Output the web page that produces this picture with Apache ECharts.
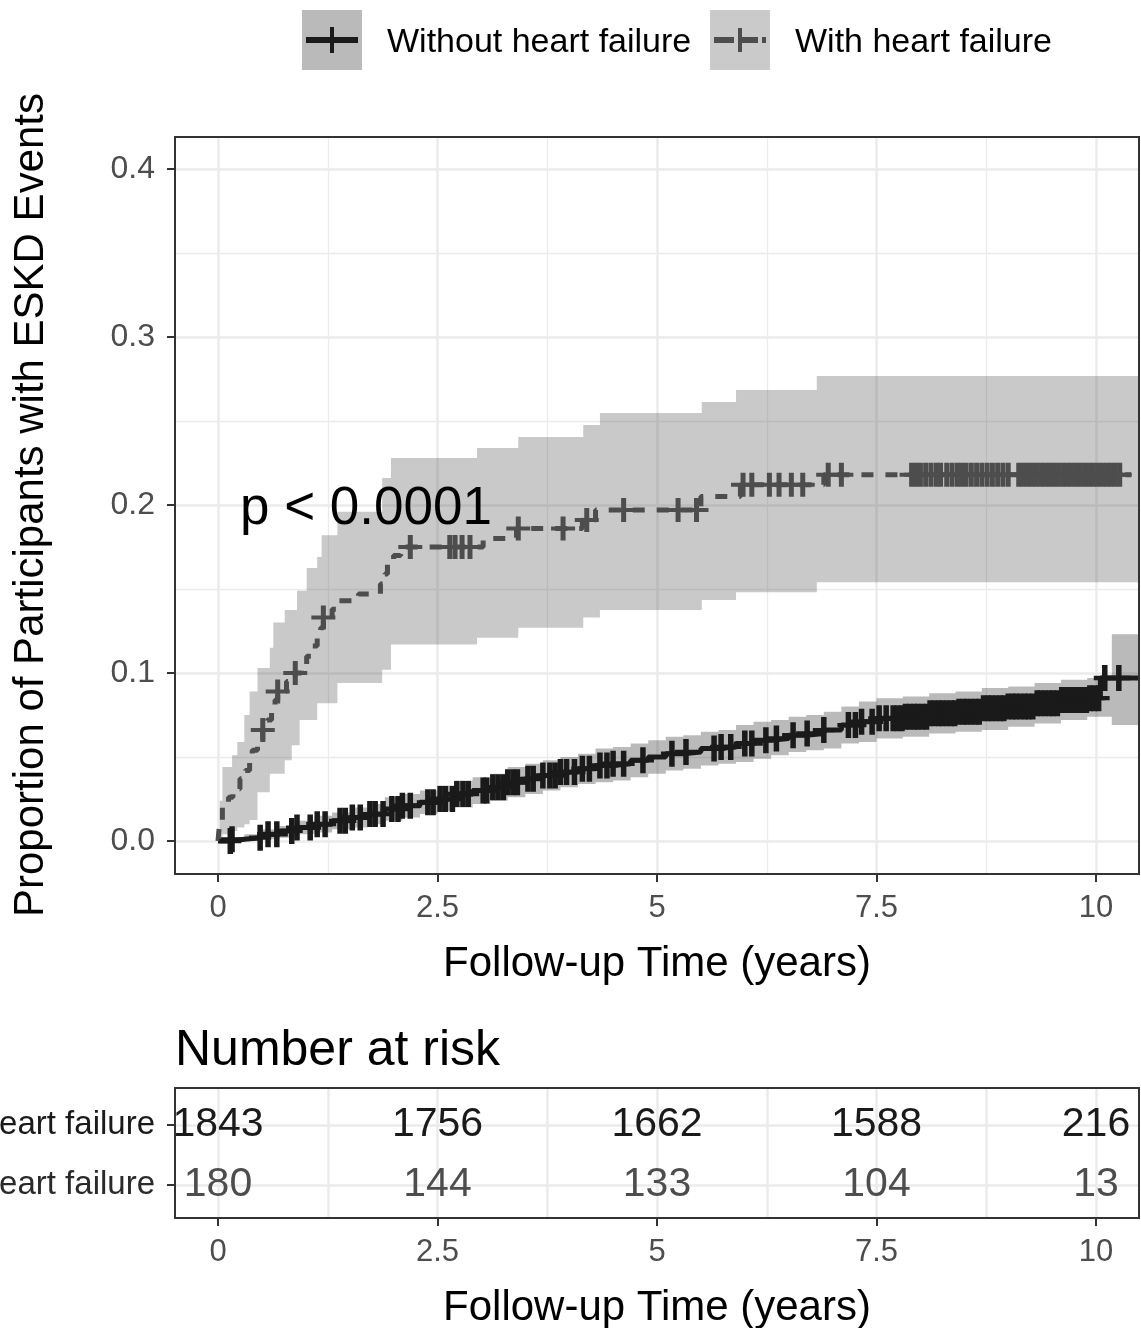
<!DOCTYPE html>
<html>
<head>
<meta charset="utf-8">
<script src="https://cdn.jsdelivr.net/npm/echarts@6/dist/echarts.min.js"></script>
<style>
  html, body { margin: 0; padding: 0; background: #fff; }
  #chart { width: 1141px; height: 1328px; }
</style>
</head>
<body>
<div id="chart"></div>
<script>
// values
var seriesNames = ['Without heart failure', 'With heart failure'];

// without heart failure: step curve + 95% band (same knots)
var withoutTimes = [0, 0.15, 0.3, 0.5, 0.7, 0.9, 1.1, 1.3, 1.5, 1.7, 1.9, 2.1, 2.3, 2.5, 2.7, 2.9, 3.1, 3.3, 3.5, 3.7,
  3.9, 4.1, 4.3, 4.5, 4.7, 4.9, 5.1, 5.3, 5.5, 5.7, 5.9, 6.1, 6.3, 6.5, 6.7, 6.9, 7.1, 7.3, 7.5, 7.8,
  8.1, 8.4, 8.7, 9.0, 9.3, 9.6, 9.9, 10.05, 10.18, 10.48];
var withoutValues = [0, 0.001, 0.002, 0.004, 0.006, 0.008, 0.010, 0.012, 0.014, 0.016, 0.019, 0.021, 0.023, 0.025, 0.028, 0.030, 0.032, 0.035, 0.037, 0.039,
  0.041, 0.043, 0.045, 0.046, 0.048, 0.050, 0.052, 0.053, 0.055, 0.056, 0.058, 0.060, 0.061, 0.063, 0.064, 0.066, 0.069, 0.071, 0.073, 0.074,
  0.076, 0.077, 0.079, 0.080, 0.082, 0.084, 0.085, 0.097, 0.097, 0.097];
var withoutLower = [0, 0, 0, 0.001, 0.002, 0.004, 0.005, 0.007, 0.008, 0.010, 0.012, 0.014, 0.016, 0.018, 0.020, 0.022, 0.024, 0.026, 0.028, 0.030,
  0.032, 0.034, 0.035, 0.036, 0.038, 0.040, 0.042, 0.043, 0.045, 0.046, 0.047, 0.049, 0.051, 0.053, 0.054, 0.055, 0.058, 0.059, 0.061, 0.062,
  0.064, 0.065, 0.066, 0.068, 0.070, 0.072, 0.074, 0.074, 0.069, 0.069];
var withoutUpper = [0, 0.002, 0.004, 0.007, 0.009, 0.012, 0.015, 0.017, 0.020, 0.022, 0.026, 0.028, 0.030, 0.033, 0.036, 0.038, 0.040, 0.044, 0.046, 0.048,
  0.050, 0.052, 0.055, 0.056, 0.058, 0.060, 0.062, 0.063, 0.065, 0.066, 0.069, 0.071, 0.072, 0.074, 0.075, 0.077, 0.080, 0.083, 0.085, 0.086,
  0.088, 0.089, 0.091, 0.092, 0.094, 0.096, 0.097, 0.098, 0.123, 0.123];
var withoutCensor = [0.14, 0.16, 0.48, 0.57, 0.67, 0.84, 0.9, 1.05, 1.13, 1.22, 1.39, 1.45, 1.53, 1.62, 1.73, 1.79, 1.88, 1.98, 2.05, 2.1,
  2.19, 2.39, 2.45, 2.53, 2.59, 2.67, 2.72, 2.79, 2.85, 3.02, 3.06, 3.13, 3.19, 3.25, 3.3, 3.36, 3.41, 3.53, 3.59, 3.7,
  3.78, 3.84, 3.9, 3.97, 4.06, 4.15, 4.23, 4.35, 4.43, 4.5, 4.62, 4.84, 5.17, 5.33, 5.65, 5.73, 5.84, 6.0, 6.08, 6.24,
  6.36, 6.55, 6.71, 6.9, 7.18, 7.26, 7.33, 7.45, 7.53, 7.61, 7.69, 7.74, 7.79, 7.83, 7.88, 7.93, 7.97, 8.02, 8.07, 8.11,
  8.16, 8.21, 8.25, 8.3, 8.35, 8.39, 8.44, 8.49, 8.53, 8.58, 8.63, 8.67, 8.72, 8.77, 8.81, 8.86, 8.91, 8.95, 9.0, 9.05,
  9.09, 9.14, 9.19, 9.23, 9.28, 9.33, 9.37, 9.42, 9.47, 9.51, 9.56, 9.61, 9.65, 9.7, 9.75, 9.79, 9.84, 9.89, 9.93, 9.98,
  10.03, 10.1, 10.26];

// with heart failure: step curve
var withTimes = [0, 0.02, 0.05, 0.12, 0.17, 0.25, 0.31, 0.36, 0.39, 0.45, 0.51, 0.56, 0.61, 0.65, 0.68, 0.78, 0.88, 0.95, 1.01, 1.07,
  1.13, 1.17, 1.2, 1.3, 1.37, 1.6, 1.85, 1.9, 1.93, 2.0, 2.08, 3.02, 3.4, 4.15, 4.3, 5.5, 5.95, 6.9, 10.4];
var withValues = [0, 0.012, 0.02, 0.026, 0.031, 0.037, 0.042, 0.048, 0.054, 0.06, 0.066, 0.072, 0.078, 0.084, 0.089, 0.095, 0.1, 0.105, 0.11, 0.116,
  0.121, 0.127, 0.133, 0.138, 0.143, 0.147, 0.153, 0.159, 0.165, 0.17, 0.175, 0.18, 0.186, 0.191, 0.197, 0.205, 0.212, 0.218, 0.218];
var withCensor = [0.51, 0.68, 0.88, 1.2, 2.19, 2.64, 2.7, 2.78, 2.87, 3.42, 3.93, 4.2, 4.62, 5.24, 5.45, 5.98, 6.08, 6.28, 6.39, 6.53,
  6.66, 6.95, 7.1, 7.9, 7.95, 8.0, 8.06, 8.12, 8.18, 8.23, 8.3, 8.36, 8.42, 8.47, 8.52, 8.58, 8.64, 8.7, 8.76, 8.82,
  8.88, 8.94, 9.0, 9.12, 9.17, 9.22, 9.27, 9.32, 9.37, 9.42, 9.47, 9.52, 9.57, 9.62, 9.67, 9.72, 9.77, 9.82, 9.87, 9.92,
  9.97, 10.02, 10.07, 10.12, 10.17, 10.22, 10.27];
// with heart failure: 95% band
var withBandTimes = [0, 0.02, 0.05, 0.16, 0.22, 0.30, 0.36, 0.45, 0.59, 0.63, 0.76, 0.84, 0.90, 0.93, 1.01, 1.13, 1.18, 1.36, 1.87, 1.97,
  2.95, 3.42, 4.16, 4.35, 5.51, 5.90, 6.82, 10.49];
var withLower = [0, 0.002, 0.004, 0.006, 0.008, 0.010, 0.0125, 0.029, 0.040, 0.040, 0.048, 0.057, 0.057, 0.072, 0.072, 0.082, 0.082, 0.094, 0.102, 0.117,
  0.121, 0.127, 0.133, 0.1375, 0.1435, 0.148, 0.154, 0.154];
var withUpper = [0, 0.024, 0.044, 0.051, 0.059, 0.075, 0.089, 0.103, 0.115, 0.130, 0.1375, 0.1375, 0.149, 0.149, 0.1625, 0.169, 0.182, 0.196, 0.216, 0.228,
  0.234, 0.2405, 0.2476, 0.2548, 0.2613, 0.2685, 0.2768, 0.2768];

// risk table
var riskTimes = [0, 2.5, 5, 7.5, 10];
var riskWithout = [1843, 1756, 1662, 1588, 216];
var riskWith = [180, 144, 133, 104, 13];

var pValueText = 'p < 0.0001';
var pValuePos = [0.25, 0.1975];

// ---- helpers ----
var FONT = '"Liberation Sans", Arial, Helvetica, sans-serif';
var X_MIN = -0.48975, X_MAX = 10.48975;
var plusPath = 'path://M-2.5,-12L2.5,-12L2.5,-2L12,-2L12,2L2.5,2L2.5,12L-2.5,12L-2.5,2L-12,2L-12,-2L-2.5,-2Z';
var plusPathBold = 'path://M-3,-12L3,-12L3,-2L12,-2L12,2L3,2L3,12L-3,12L-3,2L-12,2L-12,-2L-3,-2Z';

function stepAt(times, values, t) {
  var v = values[0];
  for (var i = 0; i < times.length; i++) {
    if (times[i] <= t) v = values[i]; else break;
  }
  return v;
}
function pairs(xs, ys) {
  return xs.map(function (x, i) { return [x, ys[i]]; });
}
function censorPoints(censor, times, values) {
  return censor.map(function (t) { return [t, stepAt(times, values, t)]; });
}
function bandSeries(times, lower, upper, fill) {
  return {
    type: 'custom', xAxisIndex: 0, yAxisIndex: 0, z: 1, silent: true, clip: false,
    data: [[times[0], lower[0]]],
    renderItem: function (params, api) {
      var pts = [];
      for (var i = 0; i < times.length - 1; i++) {
        pts.push(api.coord([times[i], upper[i]]), api.coord([times[i + 1], upper[i]]));
      }
      for (var j = times.length - 2; j >= 0; j--) {
        pts.push(api.coord([times[j + 1], lower[j]]), api.coord([times[j], lower[j]]));
      }
      return { type: 'polygon', shape: { points: pts }, style: { fill: fill } };
    }
  };
}
function textSeries(xIdx, yIdx, data, size, color, position, formatter) {
  return {
    type: 'scatter', xAxisIndex: xIdx, yAxisIndex: yIdx, z: 5, silent: true,
    data: data, symbolSize: 0, itemStyle: { color: color, opacity: 1 },
    label: { show: true, position: position, distance: 0, fontSize: size, color: color, opacity: 1,
      textBorderWidth: 0, formatter: formatter }
  };
}

var tickStyle = { show: true, length: 8, lineStyle: { color: '#333', width: 2 } };
var gridLine = { show: true, lineStyle: { color: '#ebebeb', width: 2.5 } };
var minorLine = { show: true, lineStyle: { color: '#ebebeb', width: 1.3 } };
var noLine = { show: false, onZero: false };
var riskColors = ['#1a1a1a', '#4d4d4d'];
var rowLabelColors = ['#1a1a1a', '#2a2a2a'];

function timeAxis(gridIndex, nameGap, minor) {
  return {
    type: 'value', gridIndex: gridIndex, min: 0, max: 10, interval: 2.5,
    axisLine: noLine, axisTick: tickStyle,
    axisLabel: { fontSize: 31, color: '#4d4d4d', margin: 19 },
    splitLine: gridLine,
    minorTick: { show: false, splitNumber: 2 }, minorSplitLine: minor,
    name: 'Follow-up Time (years)', nameLocation: 'middle', nameGap: nameGap,
    nameTextStyle: { fontSize: 42, color: '#000' }
  };
}

var chart = echarts.init(document.getElementById('chart'));

chart.setOption({
  animation: false,
  backgroundColor: '#fff',
  textStyle: { fontFamily: FONT },
  title: {
    text: 'Number at risk', left: 175, top: 1026, padding: 0,
    textStyle: { fontSize: 50, fontWeight: 'normal', color: '#000', fontFamily: FONT }
  },
  grid: [
    { left: 175, top: 169, width: 964, height: 672, outerBoundsMode: 'none' },   // main, y ticks
    { left: 218, top: 137, width: 878, height: 737, outerBoundsMode: 'none' },   // main, x ticks
    { left: 218, top: 1088, width: 878, height: 130, outerBoundsMode: 'none' },  // risk, x ticks
    { left: 175, top: 1125, width: 964, height: 60, outerBoundsMode: 'none' }    // risk, rows
  ],
  xAxis: [
    { type: 'value', gridIndex: 0, min: X_MIN, max: X_MAX, show: false, axisLine: noLine },
    timeAxis(1, 69, minorLine),
    timeAxis(2, 69, gridLine),
    { type: 'value', gridIndex: 3, min: X_MIN, max: X_MAX, show: false, axisLine: noLine }
  ],
  yAxis: [
    {
      type: 'value', gridIndex: 0, min: 0, max: 0.4, interval: 0.1,
      axisLine: noLine, axisTick: tickStyle,
      axisLabel: { fontSize: 32, color: '#4d4d4d', margin: 20, formatter: function (v) { return v.toFixed(1); } },
      splitLine: gridLine,
      minorTick: { show: false, splitNumber: 2 }, minorSplitLine: minorLine,
      name: 'Proportion of Participants with ESKD Events', nameLocation: 'middle', nameGap: 123,
      nameTextStyle: { fontSize: 42, color: '#000' }
    },
    { type: 'value', gridIndex: 1, min: 0, max: 1, show: false, axisLine: noLine },
    { type: 'value', gridIndex: 2, min: 0, max: 1, show: false, axisLine: noLine },
    {
      type: 'value', gridIndex: 3, min: 1, max: 2, interval: 1, inverse: true,
      axisLine: noLine, axisTick: tickStyle,
      axisLabel: {
        fontSize: 33, margin: 20,
        formatter: function (v) { return seriesNames[v - 1] || ''; },
        color: function (v) { return rowLabelColors[v - 1] || '#000'; }
      },
      splitLine: gridLine
    }
  ],
  series: [
    bandSeries(withoutTimes, withoutLower, withoutUpper, 'rgba(26,26,26,0.3)'),
    bandSeries(withBandTimes, withLower, withUpper, 'rgba(77,77,77,0.3)'),
    {
      name: seriesNames[0], type: 'line', xAxisIndex: 0, yAxisIndex: 0, z: 3,
      data: pairs(withoutTimes, withoutValues), step: 'end', symbol: 'none', clip: false,
      lineStyle: { color: '#1a1a1a', width: 5 }
    },
    {
      name: seriesNames[1], type: 'line', xAxisIndex: 0, yAxisIndex: 0, z: 3,
      data: pairs(withTimes, withValues), step: 'end', symbol: 'none', clip: false,
      lineStyle: { color: '#4d4d4d', width: 5, type: [12, 12] }
    },
    {
      type: 'scatter', xAxisIndex: 0, yAxisIndex: 0, z: 4, clip: false, silent: true,
      data: censorPoints(withoutCensor, withoutTimes, withoutValues),
      symbol: plusPathBold, symbolSize: [22, 26], itemStyle: { color: '#1a1a1a', opacity: 1 }
    },
    {
      type: 'scatter', xAxisIndex: 0, yAxisIndex: 0, z: 4, clip: false, silent: true,
      data: censorPoints(withCensor, withTimes, withValues),
      symbol: plusPath, symbolSize: [24, 24], itemStyle: { color: '#4d4d4d', opacity: 1 }
    },
    textSeries(0, 0, [pValuePos], 53, '#000', 'right', pValueText),
    textSeries(3, 3, riskTimes.map(function (t, i) { return [t, 1, riskWithout[i]]; }), 41, riskColors[0], 'inside',
      function (p) { return String(p.value[2]); }),
    textSeries(3, 3, riskTimes.map(function (t, i) { return [t, 2, riskWith[i]]; }), 41, riskColors[1], 'inside',
      function (p) { return String(p.value[2]); })
  ],
  graphic: {
    elements: [
      // panel borders
      { type: 'rect', z: 100, shape: { x: 175, y: 137, width: 964, height: 737 },
        style: { fill: 'none', stroke: '#333', lineWidth: 2 } },
      { type: 'rect', z: 100, shape: { x: 175, y: 1088, width: 964, height: 130 },
        style: { fill: 'none', stroke: '#333', lineWidth: 2 } },
      // legend
      { type: 'rect', z: 100, shape: { x: 302, y: 10, width: 60, height: 60 }, style: { fill: '#bababa' } },
      { type: 'line', z: 101, shape: { x1: 306, y1: 40, x2: 358, y2: 40 }, style: { stroke: '#1a1a1a', lineWidth: 6 } },
      { type: 'line', z: 101, shape: { x1: 332, y1: 27, x2: 332, y2: 53 }, style: { stroke: '#1a1a1a', lineWidth: 4 } },
      { type: 'text', z: 101, x: 387, y: 43,
        style: { text: seriesNames[0], fontSize: 34, fontFamily: FONT, fill: '#000', verticalAlign: 'middle' } },
      { type: 'rect', z: 100, shape: { x: 710, y: 10, width: 60, height: 60 }, style: { fill: '#cacaca' } },
      { type: 'line', z: 101, shape: { x1: 714, y1: 40, x2: 766, y2: 40 },
        style: { stroke: '#4d4d4d', lineWidth: 6, lineDash: [20, 4] } },
      { type: 'line', z: 101, shape: { x1: 740, y1: 28, x2: 740, y2: 52 }, style: { stroke: '#4d4d4d', lineWidth: 4 } },
      { type: 'text', z: 101, x: 795, y: 43,
        style: { text: seriesNames[1], fontSize: 34, fontFamily: FONT, fill: '#000', verticalAlign: 'middle' } }
    ]
  }
});
</script>
</body>
</html>
